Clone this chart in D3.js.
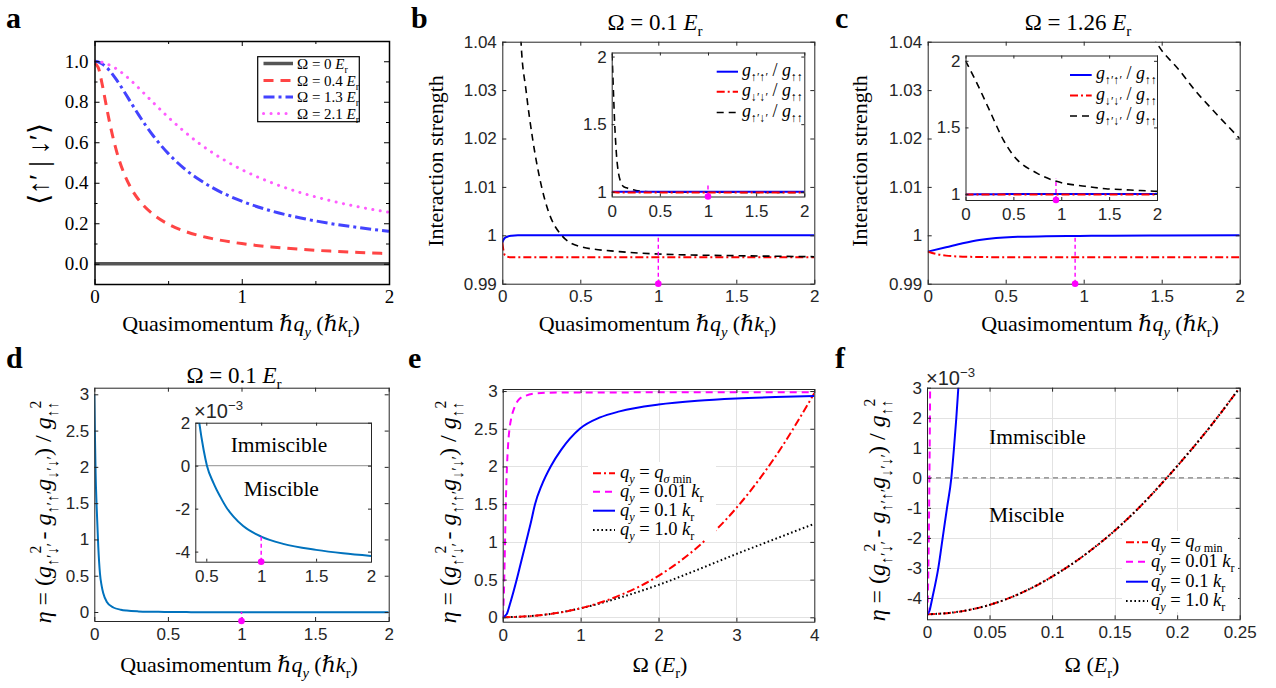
<!DOCTYPE html>
<html><head><meta charset="utf-8">
<script src="https://cdn.jsdelivr.net/npm/d3@7"></script>
<style>
html,body{margin:0;padding:0;background:#fff;}
svg{display:block;}
</style></head><body>
<svg id="fig" width="1276" height="688"></svg>
<script>
// ================= DATA =================
// Panel a: overlap <up'|down'> vs quasimomentum
const aQ       = [0,0.025,0.05,0.075,0.1,0.15,0.2,0.25,0.3,0.4,0.5,0.6,0.7,0.8,1.0,1.2,1.4,1.6,1.8,2.0];
const aOmega0  = [0,0,0,0,0,0,0,0,0,0,0,0,0,0,0,0,0,0,0,0];
const aOmega04 = [0.99,0.97,0.894,0.8,0.707,0.555,0.447,0.371,0.316,0.243,0.196,0.164,0.141,0.124,0.0995,0.083,0.0712,0.0624,0.0555,0.05];
const aOmega13 = [1.0,0.997,0.988,0.9745,0.956,0.908,0.852,0.793,0.735,0.631,0.545,0.476,0.421,0.376,0.309,0.261,0.226,0.199,0.178,0.160];
const aOmega21 = [1.0,0.999,0.995,0.990,0.982,0.962,0.935,0.903,0.868,0.795,0.724,0.659,0.600,0.549,0.465,0.401,0.351,0.312,0.280,0.254];
const aLegendOmega = ["0","0.4","1.3","2.1"];
const aXTicks = [0,1,2];
const aXMinor = [0.5,1.5];
const aYTicks = [0,0.2,0.4,0.6,0.8,1.0];
const aYMinor = [0.1,0.3,0.5,0.7,0.9];

// Panels b, c: interaction strengths (ratios to g_upup)
const qTicks = [0,0.5,1,1.5,2];
const gYTicks = [0.99,1,1.01,1.02,1.03,1.04];
const gInsetYTicks = [1,1.5,2];
const bUpUp = [[0,0.9985],[0.008,0.9991],[0.016,0.99945],[0.032,0.9997],[0.06,0.9999],[0.1,1.0],[2.0,1.0]];
const bDnDn = [[0,0.9985],[0.008,0.9968],[0.016,0.9959],[0.032,0.99555],[0.06,0.99547],[0.1,0.99545],[2.0,0.99545]];
const bUpDn = [[0.003,2.02],[0.01,1.9],[0.02,1.7],[0.03,1.52],[0.04,1.38],[0.05,1.27],[0.07,1.14],[0.09,1.08],[0.105,1.055],[0.12,1.04],[0.152,1.03],[0.194,1.02],[0.252,1.01],[0.295,1.005],[0.38,1.0],[0.5,0.99766],[0.75,0.99663],[1.0,0.99613],[1.5,0.99579],[2.0,0.99558]];
const bMarkQ = 1.0;
const cUpUp = [[0,0.99663],[0.1175,0.99752],[0.224,0.99835],[0.331,0.99904],[0.438,0.99945],[0.545,0.99966],[0.759,0.99979],[0.972,0.99986],[1.186,0.99993],[1.5,0.99997],[2.0,1.0]];
const cDnDn = [[0,0.99663],[0.053,0.99614],[0.1175,0.9958],[0.224,0.99559],[0.331,0.99552],[0.545,0.99545],[2.0,0.99545]];
const cUpDn = [[0,2.0],[0.1,1.86],[0.25,1.63],[0.4,1.40],[0.5,1.29],[0.75,1.155],[0.95,1.095],[1.25,1.058],[1.464,1.04],[1.613,1.0341],[1.72,1.0297],[1.827,1.0259],[2.0,1.02]];
const cMarkQ = 0.945;

// Panel d: eta vs quasimomentum, Omega = 0.1 Er
const dEta = [[0,3.0],[0.005,2.35],[0.009,1.91],[0.016,1.45],[0.027,0.90],[0.0385,0.53],[0.05,0.36],[0.061,0.257],[0.084,0.142],[0.129,0.062],[0.18,0.032],[0.22,0.02],[0.3,0.0085],[0.4,0.0035],[0.436,0.002],[0.476,0.00073],[0.506,0],[0.567,-0.00082],[0.627,-0.00144],[0.688,-0.00198],[0.748,-0.00237],[0.836,-0.00281],[1.0,-0.0033],[1.2,-0.00364],[1.5,-0.00392],[1.745,-0.00408],[2.0,-0.0042]];
const dYTicks = [0,0.5,1,1.5,2,2.5,3];
const dInsetXTicks = [0.5,1,1.5,2];
const dInsetYTicks = [-4,-2,0,2];
const dMarkQ = 1.0;

// Panel e: eta vs Omega
const eXTicks = [0,1,2,3,4];
const eYTicks = [0,0.5,1,1.5,2,2.5,3];
const eQmin = [[0,0],[0.5,0.03],[1,0.12],[1.5,0.29],[2,0.55],[2.5,0.93],[3,1.45],[3.5,2.13],[4,2.97]];
const eQ001 = [[0,0],[0.015,0.3],[0.022,0.6],[0.03,1.0],[0.037,1.35],[0.045,1.7],[0.055,2.0],[0.07,2.3],[0.09,2.52],[0.11,2.64],[0.15,2.78],[0.22,2.9],[0.3,2.94],[0.45,2.97],[0.7,2.98],[4,2.985]];
const eQ01  = [[0,0],[0.05,0.04],[0.1,0.2],[0.18,0.5],[0.24,0.75],[0.3,1.0],[0.36,1.25],[0.415,1.5],[0.5,1.75],[0.616,2.0],[0.75,2.22],[0.99,2.5],[1.25,2.65],[1.5,2.73],[2,2.82],[2.5,2.87],[3,2.9],[3.5,2.92],[4,2.935]];
const eQ10  = [[0,0],[0.5,0.03],[1,0.12],[1.5,0.26],[2,0.43],[2.5,0.63],[3,0.84],[3.5,1.04],[4,1.24]];

// Panel f: eta (x1e-3) vs Omega, zoom
const fXTicks = [0,0.05,0.1,0.15,0.2,0.25];
const fYTicks = [-4,-3,-2,-1,0,1,2,3];
const fQmin = [[0,-4.545],[0.025,-4.46],[0.05,-4.23],[0.075,-3.84],[0.1,-3.29],[0.125,-2.6],[0.15,-1.76],[0.175,-0.76],[0.19,-0.08],[0.2,0.39],[0.225,1.63],[0.25,3.0]];
const fQ001 = [[0,-4.545],[0.00025,-4.46],[0.0005,-4.2],[0.00075,-3.84],[0.001,-3.3],[0.00125,-2.6],[0.0015,-1.8],[0.00175,-0.8],[0.002,0.35],[0.00225,1.6],[0.0025,3.0],[0.0026,3.6]];
const fQ01  = [[0,-4.545],[0.002,-4.42],[0.00426,-4.0],[0.00906,-3.0],[0.01253,-2.0],[0.016,-1.0],[0.01946,0],[0.02159,1.0],[0.02345,2.0],[0.02505,3.0],[0.026,3.6]];
const fQ10  = [[0,-4.545],[0.025,-4.46],[0.05,-4.23],[0.075,-3.84],[0.1,-3.29],[0.125,-2.6],[0.15,-1.76],[0.175,-0.76],[0.19,-0.08],[0.2,0.39],[0.225,1.63],[0.25,3.0]];
const qLegendValues = ["0.01","0.1","1.0"];

// ================= DRAWING =================
const SERIF = "'Liberation Serif','Times New Roman','DejaVu Serif',serif";
const SANS = "'Liberation Sans',Arial,'DejaVu Sans',sans-serif";
const MAT = "#262626";
const svg = d3.select("#fig");
let clipN = 0;
const fmt = d => String(+d.toFixed(4));

function rich(sel, parts, size) {
  let cur = 0, prev = null;
  parts.forEach(([txt, kind]) => {
    kind = kind || "";
    let off = 0, fs = size;
    if (kind.startsWith("sub")) { off = 0.28*size; fs = 0.66*size; }
    if (kind.startsWith("sup")) { off = -0.42*size; fs = 0.66*size; }
    const t = sel.append("tspan").style("font-size", fs+"px").text(txt);
    if (off - cur !== 0) t.attr("dy", (off-cur).toFixed(2));
    if (kind.endsWith("i")) t.style("font-style","italic");
    if (kind === "supb" && prev) {
      const len = prev.node().getComputedTextLength();
      t.attr("dx", (-0.45*len).toFixed(2));
    }
    cur = off; prev = t;
  });
}

function txt(x, y, parts, size, opts={}) {
  const t = svg.append("text").attr("x", x).attr("y", y)
    .attr("text-anchor", opts.anchor || "middle")
    .style("font-family", opts.font || SERIF).style("font-size", size+"px")
    .attr("fill", opts.fill || "#000");
  if (opts.baseline) t.attr("dominant-baseline", opts.baseline);
  rich(t, parts, size);
  return t;
}
function rtxt(x, y, parts, size, opts={}) {
  const t = svg.append("text").attr("transform", `translate(${x},${y}) rotate(-90)`)
    .attr("text-anchor", "middle")
    .style("font-family", opts.font || SERIF).style("font-size", size+"px").attr("fill","#000");
  if (opts.baseline) t.attr("dominant-baseline", opts.baseline);
  rich(t, parts, size);
  return t;
}

function styleAxis(a, o, noLabels) {
  a.select(".domain").remove();
  a.selectAll(".tick line").attr("stroke", o.color).attr("stroke-width", o.tw || 1);
  if (noLabels) { a.selectAll(".tick text").remove(); return; }
  a.selectAll(".tick text").attr("fill", o.tcolor || o.color)
    .style("font-family", o.font).style("font-size", o.fs + "px");
}

function panel(o) {
  const x = d3.scaleLinear().domain(o.xd).range([o.l, o.r]);
  const y = d3.scaleLinear().domain(o.yd).range([o.b, o.t]);
  const root = svg.append("g");
  const id = "clip" + (clipN++);
  root.append("clipPath").attr("id", id).append("rect")
    .attr("x", o.l).attr("y", o.t).attr("width", o.r - o.l).attr("height", o.b - o.t);
  if (o.bg) root.append("rect").attr("x", o.l).attr("y", o.t).attr("width", o.r - o.l)
    .attr("height", o.b - o.t).attr("fill", "#fff");
  if (o.grid) {
    const gg = root.append("g").attr("stroke", "#e2e2e2").attr("stroke-width", 1);
    o.xt.forEach(v => { const px = Math.round(x(v)) + 0.5; if (px > o.l + 1 && px < o.r - 1)
      gg.append("line").attr("x1", px).attr("x2", px).attr("y1", o.t).attr("y2", o.b); });
    o.yt.forEach(v => { const py = Math.round(y(v)) + 0.5; if (py > o.t + 1 && py < o.b - 1)
      gg.append("line").attr("x1", o.l).attr("x2", o.r).attr("y1", py).attr("y2", py); });
  }
  const data = root.append("g").attr("clip-path", `url(#${id})`);
  const ax = root.append("g");
  const tl = o.tl || 4;
  const xf = o.xfmt || fmt, yf = o.yfmt || fmt;
  let a;
  a = ax.append("g").attr("transform", `translate(0,${o.b})`)
    .call(d3.axisBottom(x).tickValues(o.xt).tickFormat(xf).tickSizeInner(-tl).tickSizeOuter(0).tickPadding(o.padB || 6));
  styleAxis(a, o);
  a = ax.append("g").attr("transform", `translate(0,${o.t})`)
    .call(d3.axisTop(x).tickValues(o.xt).tickSizeInner(-tl).tickSizeOuter(0));
  styleAxis(a, o, true);
  a = ax.append("g").attr("transform", `translate(${o.l},0)`)
    .call(d3.axisLeft(y).tickValues(o.yt).tickFormat(yf).tickSizeInner(-tl).tickSizeOuter(0).tickPadding(o.padL || 5));
  styleAxis(a, o);
  a = ax.append("g").attr("transform", `translate(${o.r},0)`)
    .call(d3.axisRight(y).tickValues(o.yt).tickSizeInner(-tl).tickSizeOuter(0));
  styleAxis(a, o, true);
  if (o.xminor) {
    const tm = o.tlm || 3;
    a = ax.append("g").attr("transform", `translate(0,${o.b})`)
      .call(d3.axisBottom(x).tickValues(o.xminor).tickSizeInner(-tm).tickSizeOuter(0));
    styleAxis(a, o, true);
    a = ax.append("g").attr("transform", `translate(0,${o.t})`)
      .call(d3.axisTop(x).tickValues(o.xminor).tickSizeInner(-tm).tickSizeOuter(0));
    styleAxis(a, o, true);
  }
  if (o.yminor) {
    const tm = o.tlm || 3;
    a = ax.append("g").attr("transform", `translate(${o.l},0)`)
      .call(d3.axisLeft(y).tickValues(o.yminor).tickSizeInner(-tm).tickSizeOuter(0));
    styleAxis(a, o, true);
    a = ax.append("g").attr("transform", `translate(${o.r},0)`)
      .call(d3.axisRight(y).tickValues(o.yminor).tickSizeInner(-tm).tickSizeOuter(0));
    styleAxis(a, o, true);
  }
  ax.append("rect").attr("x", o.l + 0.5).attr("y", o.t + 0.5).attr("width", o.r - o.l)
    .attr("height", o.b - o.t).attr("fill", "none").attr("stroke", o.frame || o.color)
    .attr("stroke-width", o.fw || 1);
  return { x, y, data, root, ax };
}

function curve(p, pts, stroke, w, dash, cap) {
  const gen = d3.line().x(d => p.x(d[0])).y(d => p.y(d[1])).curve(d3.curveMonotoneX);
  const path = p.data.append("path").datum(pts).attr("d", gen).attr("fill", "none")
    .attr("stroke", stroke).attr("stroke-width", w).attr("stroke-linejoin", "round");
  if (dash) path.attr("stroke-dasharray", dash);
  if (cap) path.attr("stroke-linecap", cap);
  return path;
}

function marker(p, q, yLow, yHigh) {
  p.root.append("line").attr("x1", p.x(q)).attr("x2", p.x(q)).attr("y1", p.y(yLow)).attr("y2", p.y(yHigh))
    .attr("stroke", "#ff00ff").attr("stroke-width", 1.4).attr("stroke-dasharray", "4,3");
  p.root.append("circle").attr("cx", p.x(q)).attr("cy", p.y(yLow)).attr("r", 3.3).attr("fill", "#ff00ff");
}

function legendLine(x1, x2, yy, stroke, w, dash, cap) {
  const l = svg.append("line").attr("x1", x1).attr("x2", x2).attr("y1", yy).attr("y2", yy)
    .attr("stroke", stroke).attr("stroke-width", w);
  if (dash) l.attr("stroke-dasharray", dash);
  if (cap) l.attr("stroke-linecap", cap);
}

const DASH = "7,5", DASHDOT = "8,3,2,3", DOT = "1.6,2.6";
const qLabel = [["Quasimomentum ",""],["ℏq","i"],["y","subi"],[" (ℏ",""],["k","i"],["r","sub"],[")",""]];
const etaLabel = [["η","i"],[" = (",""],["g","i"],["↑′↓′","sub"],["2","supb"],[" - ",""],["g","i"],["↑′↑′","sub"],["g","i"],["↓′↓′","sub"],[") / ",""],["g","i"],["↑↑","sub"],["2","supb"]];
const LABEL_FS = 22, TITLE_FS = 23, ETA_FS = 24, LETTER_FS = 30;

// ---------- Panel a ----------
{
  const p = panel({l:94.5, r:389, t:41, b:284, xd:[0,2], yd:[-0.1,1.1], xt:aXTicks, yt:aYTicks,
    xminor:aXMinor, yminor:aYMinor, xfmt:d3.format("d"), yfmt:d3.format(".1f"),
    color:"#000", font:SERIF, fs:19, tl:5, tlm:3, padB:6, padL:6, fw:1.5});
  const series = [
    [aOmega0, "#555555", 3.5, null, null],
    [aOmega04, "#ff4545", 3, "10,7", null],
    [aOmega13, "#4343ff", 3, "11,4,3,4", null],
    [aOmega21, "#ff5cff", 3, "0.1,7.4", "round"]
  ];
  series.forEach(s => curve(p, d3.zip(aQ, s[0]), s[1], s[2], s[3], s[4]));
  svg.append("rect").attr("x", 257.7).attr("y", 56.7).attr("width", 101.6).attr("height", 65)
    .attr("fill", "#fff").attr("stroke", "#000").attr("stroke-width", 1.2);
  const rows = [63.5, 80.5, 97, 113.5];
  series.forEach((s, i) => {
    legendLine(263.5, 293, rows[i], s[1], s[2], s[3], s[4]);
    txt(297, rows[i] + 5, [["Ω = " + aLegendOmega[i] + " ",""],["E","i"],["r","sub"]], 15, {anchor:"start"});
  });
  rtxt(38, 164, [["⟨↑′ | ↓′⟩",""]], 28, {baseline:"central"});
  txt(241, 331, qLabel, LABEL_FS);
  txt(6, 28, [["a",""]], LETTER_FS, {anchor:"start"}).style("font-weight","bold");
}

// ---------- Panels b, c ----------
function gPanel(cfg) {
  const p = panel({l:cfg.l, r:cfg.r, t:41.7, b:283.7, xd:[0,2], yd:[0.99,1.04], xt:qTicks, yt:gYTicks,
    color:MAT, font:SANS, fs:17, tl:4, padB:6, padL:5.5});
  curve(p, cfg.upup, "#0000ff", 2);
  curve(p, cfg.dndn, "#ff0000", 2, DASHDOT);
  curve(p, cfg.updn, "#000", 1.6, DASH);
  marker(p, cfg.mark, 0.99, 1.0);
  const ins = panel({l:cfg.il, r:cfg.ir, t:cfg.it, b:cfg.ib, xd:[0,2], yd:cfg.iyd, xt:qTicks, yt:gInsetYTicks,
    color:MAT, font:SANS, fs:17, tl:3, padB:8, padL:5, bg:true});
  curve(ins, cfg.updn, "#000", 1.6, DASH);
  curve(ins, cfg.upup, "#0000ff", 2);
  curve(ins, cfg.dndn, "#ff0000", 2, DASHDOT);
  marker(ins, cfg.mark, cfg.iyd[0], cfg.imarkTop);
  const subs = ["↑′↑′","↓′↓′","↑′↓′"];
  const sty = [["#0000ff",2,null],["#ff0000",2,DASHDOT],["#000",1.6,DASH]];
  subs.forEach((s, i) => {
    legendLine(cfg.lx1, cfg.lx2, cfg.rows[i], sty[i][0], sty[i][1], sty[i][2]);
    txt(cfg.tx, cfg.rows[i] + 4, [["g","i"],[s,"sub"],[" / ",""],["g","i"],["↑↑","sub"]], 18, {anchor:"start"});
  });
  rtxt(cfg.ylx, 161, [["Interaction strength",""]], LABEL_FS);
  txt(cfg.xlx, 331, qLabel, LABEL_FS);
  txt(cfg.tcx, 30, [["Ω = " + cfg.omega + " ",""],["E","i"],["r","sub"]], TITLE_FS);
  txt(cfg.lab, 28, [[cfg.letter,""]], LETTER_FS, {anchor:"start"}).style("font-weight","bold");
}
gPanel({l:502.3, r:814.3, upup:bUpUp, dndn:bDnDn, updn:bUpDn, mark:bMarkQ,
  il:611.7, ir:804.3, it:52.5, ib:196.5, iyd:[0.965,2.03], imarkTop:1.05,
  lx1:716.7, lx2:738, tx:742, rows:[71.7,91.7,112.5], ylx:443, xlx:657.5, tcx:655, omega:"0.1", lab:411, letter:"b"});
gPanel({l:927.7, r:1239.7, upup:cUpUp, dndn:cDnDn, updn:cUpDn, mark:cMarkQ,
  il:965.5, ir:1157, it:55.5, ib:200, iyd:[0.955,2.04], imarkTop:1.115,
  lx1:1070, lx2:1091.7, tx:1096, rows:[75,95.5,116], ylx:867, xlx:1100, tcx:1078, omega:"1.26", lab:835, letter:"c"});

// ---------- Panel d ----------
{
  const p = panel({l:94.3, r:388.7, t:387.7, b:621, xd:[0,2], yd:[-0.124,3.091], xt:qTicks, yt:dYTicks,
    color:MAT, font:SANS, fs:17, tl:4, padB:7, padL:5});
  curve(p, dEta, "#0072bd", 2);
  marker(p, dMarkQ, -0.124, 0);
  const ins = panel({l:195.3, r:371, t:422.7, b:561.7, xd:[0.4,2], yd:[-4.47,2], xt:dInsetXTicks, yt:dInsetYTicks,
    color:MAT, font:SANS, fs:17, tl:3, padB:8, padL:5, bg:true});
  ins.data.append("line").attr("x1", ins.x(0.4)).attr("x2", ins.x(2)).attr("y1", ins.y(0)).attr("y2", ins.y(0))
    .attr("stroke", "#a6a6a6").attr("stroke-width", 1.2);
  curve(ins, dEta.filter(d => d[0] >= 0.3).map(d => [d[0], d[1]*1000]), "#0072bd", 2);
  marker(ins, dMarkQ, -4.47, -3.3);
  txt(194, 418, [["×10",""],["−3","sup"]], 20, {anchor:"start", font:SANS, fill:MAT});
  txt(279, 452, [["Immiscible",""]], 21.5);
  txt(281.3, 496, [["Miscible",""]], 21.5);
  rtxt(51, 512, etaLabel, ETA_FS);
  txt(239, 672, qLabel, LABEL_FS);
  txt(234, 383, [["Ω = 0.1 ",""],["E","i"],["r","sub"]], TITLE_FS);
  txt(6, 368, [["d",""]], LETTER_FS, {anchor:"start"}).style("font-weight","bold");
}

// ---------- Panel e ----------
const legStyles = [["#ff0000",2,DASHDOT],["#ff00ff",2,"7,5"],["#0000ff",2,null],["#000",2,DOT]];
function qLegend(x1, x2, tx, rows, bgRect) {
  svg.append("rect").attr("x", bgRect[0]).attr("y", bgRect[1]).attr("width", bgRect[2]).attr("height", bgRect[3]).attr("fill", "#fff");
  const labels = [
    [["q","i"],["y","subi"],[" = ",""],["q","i"],["σ","subi"],[" min","sub"]],
    [["q","i"],["y","subi"],[" = " + qLegendValues[0] + " ",""],["k","i"],["r","sub"]],
    [["q","i"],["y","subi"],[" = " + qLegendValues[1] + " ",""],["k","i"],["r","sub"]],
    [["q","i"],["y","subi"],[" = " + qLegendValues[2] + " ",""],["k","i"],["r","sub"]]
  ];
  labels.forEach((lab, i) => {
    legendLine(x1, x2, rows[i], legStyles[i][0], legStyles[i][1], legStyles[i][2]);
    txt(tx, rows[i] + 5, lab, 18.5, {anchor:"start"});
  });
}
{
  const p = panel({l:502.7, r:814.3, t:389, b:621.7, xd:[0,4], yd:[-0.058,3.027], xt:eXTicks, yt:eYTicks,
    color:MAT, font:SANS, fs:17, tl:4, padB:7, padL:5, grid:true});
  curve(p, eQ10, "#000", 2, DOT);
  curve(p, eQmin, "#ff0000", 2, DASHDOT);
  curve(p, eQ01, "#0000ff", 2);
  curve(p, eQ001, "#ff00ff", 2, "7,5");
  qLegend(593, 615, 620, [473.3,491.7,510.7,530], [588, 462, 128, 78]);
  rtxt(456, 512, etaLabel, ETA_FS);
  txt(660, 672, [["Ω (",""],["E","i"],["r","sub"],[")",""]], LABEL_FS);
  txt(408, 368, [["e",""]], LETTER_FS, {anchor:"start"}).style("font-weight","bold");
}

// ---------- Panel f ----------
{
  const p = panel({l:927, r:1239.7, t:387.7, b:619.3, xd:[0,0.25], yd:[-4.71,3], xt:fXTicks, yt:fYTicks,
    color:MAT, font:SANS, fs:17, tl:4, padB:7, padL:5, grid:true});
  p.data.append("line").attr("x1", p.x(0)).attr("x2", p.x(0.25)).attr("y1", p.y(0)).attr("y2", p.y(0))
    .attr("stroke", "#7f7f7f").attr("stroke-width", 1.3).attr("stroke-dasharray", "5,4");
  curve(p, fQmin, "#ff0000", 2, DASHDOT);
  curve(p, fQ10, "#000", 2, DOT);
  curve(p, fQ01, "#0000ff", 2);
  curve(p, fQ001, "#ff00ff", 2, "7,5");
  qLegend(1126, 1148, 1151, [542.3,561.7,581.7,601], [1122, 531, 116, 81]);
  txt(926, 385, [["×10",""],["−3","sup"]], 20, {anchor:"start", font:SANS, fill:MAT});
  txt(989, 444, [["Immiscible",""]], 21.5, {anchor:"start"});
  txt(989, 521.5, [["Miscible",""]], 21.5, {anchor:"start"});
  rtxt(885, 510, etaLabel, ETA_FS);
  txt(1092, 672, [["Ω (",""],["E","i"],["r","sub"],[")",""]], LABEL_FS);
  txt(835, 368, [["f",""]], LETTER_FS, {anchor:"start"}).style("font-weight","bold");
}
</script>
</body></html>
